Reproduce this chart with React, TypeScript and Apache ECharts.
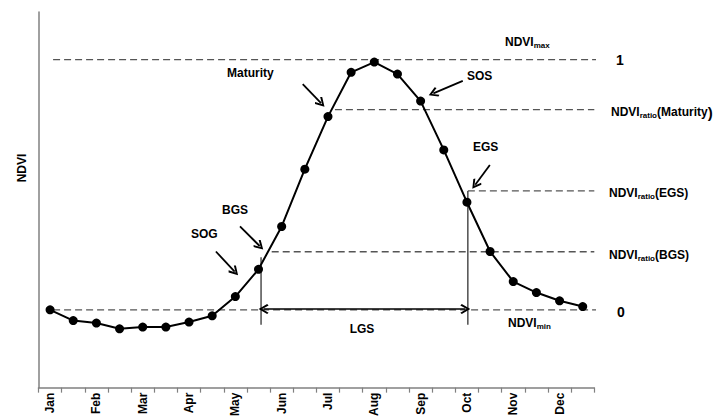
import React, { useEffect, useRef } from "react";
import * as echarts from "echarts";

// ---- data ----
const MONTHS = ["Jan", "Feb", "Mar", "Apr", "May", "Jun", "Jul", "Aug", "Sep", "Oct", "Nov", "Dec"];
// half-month NDVI samples (24 points), position i+0.5 on the x scale
const NDVI = [0.0, -0.043, -0.053, -0.076, -0.069, -0.069, -0.049, -0.024, 0.053, 0.162, 0.333, 0.562,
  0.772, 0.949, 0.99, 0.942, 0.834, 0.639, 0.43, 0.233, 0.113, 0.069, 0.036, 0.013];
const NDVI_MAX = 1;
const NDVI_MIN = 0;
const LEVEL_MATURITY = 0.8;
const LEVEL_EGS = 0.475;
const LEVEL_BGS = 0.232;
const X_BGS = 9.61;
const X_EGS = 18.54;
const X_RIGHT = 24.11;
const TICK_VALUES = Array.from({ length: 25 }, (_, i) => i);
const LABEL_VALUES = MONTHS.map((_, i) => i * 2 + 0.5);

// annotation arrows [x1, y1, x2, y2] in data units
const ARROWS = [
  [11.41, 0.902, 12.2, 0.826], // Maturity
  [18.32, 0.915, 17.05, 0.865], // SOS
  [19.49, 0.579, 18.86, 0.5], // EGS
  [8.7, 0.333, 9.55, 0.255], // BGS
  [7.66, 0.233, 8.47, 0.153], // SOG
];
const LGS_ARROW = [9.72, 0.003, 18.43, 0.003];

const CHEVRON = "path://M5,0 L10,8 L8.6,9.4 L5,3.4 L1.4,9.4 L0,8 Z";
const FONT = '"Liberation Sans", Arial, Helvetica, sans-serif';

function dashed(x0: number, x1: number, y: number) {
  return {
    type: "line",
    data: [[x0, y], [x1, y]],
    symbol: "none",
    clip: false,
    silent: true,
    lineStyle: { color: "#555", width: 1.3, type: [7, 4] },
    z: 2,
  };
}
function vline(x: number, y0: number, y1: number, color: string, width: number) {
  return {
    type: "line",
    data: [[x, y0], [x, y1]],
    symbol: "none",
    clip: false,
    silent: true,
    lineStyle: { color, width },
    z: 2,
  };
}

function txt(text: string, x: number, y: number, size = 12, align = "left", rotation = 0) {
  return {
    type: "text",
    x,
    y,
    rotation,
    style: {
      text,
      fill: "#000",
      font: `bold ${size}px ${FONT}`,
      align,
      textAlign: align,
      verticalAlign: "middle",
      textVerticalAlign: "middle",
    },
  };
}
function subTxt(main: string, sub: string, tail: string, x: number, y: number, close = "") {
  return {
    type: "text",
    x,
    y,
    style: {
      text: `{a|${main}}{b|${sub}}{a|${tail}}` + (close ? `{c|${close}}` : ""),
      align: "left",
      textAlign: "left",
      verticalAlign: "middle",
      textVerticalAlign: "middle",
      rich: {
        a: { fontSize: 12, fontWeight: "bold", fontFamily: FONT, fill: "#000", color: "#000", lineHeight: 15 },
        b: { fontSize: 8, fontWeight: "bold", fontFamily: FONT, fill: "#000", color: "#000", lineHeight: 9, verticalAlign: "bottom" },
        c: { fontSize: 15, fontWeight: "bold", fontFamily: FONT, fill: "#000", color: "#000", lineHeight: 15 },
      },
    },
  };
}

export default function App() {
  const ref = useRef<HTMLDivElement>(null);
  useEffect(() => {
    if (!ref.current) return;
    const chart = echarts.init(ref.current, null, { renderer: "svg" });
    const option: any = {
      animation: false,
      backgroundColor: "#fff",
      grid: { left: 38.5, right: 122.7, top: 12, bottom: 31, containLabel: false },
      xAxis: {
        type: "value",
        min: 0,
        max: 24,
        axisLine: { show: true, onZero: false, lineStyle: { color: "#808080", width: 1.5 } },
        axisTick: { show: true, length: 5, customValues: TICK_VALUES, lineStyle: { color: "#808080", width: 1.2 } },
        axisLabel: {
          show: true,
          customValues: LABEL_VALUES,
          rotate: 90,
          margin: 5,
          color: "#000",
          fontWeight: "bold",
          fontSize: 12,
          fontFamily: FONT,
          formatter: (v: number) => MONTHS[Math.round((v - 0.5) / 2)] ?? "",
        },
        splitLine: { show: false },
      },
      yAxis: {
        type: "value",
        min: -0.311,
        max: 1.19,
        axisLine: { show: true, onZero: false, lineStyle: { color: "#808080", width: 1.5 } },
        axisTick: { show: false },
        axisLabel: { show: false },
        splitLine: { show: false },
      },
      series: [
        dashed(0.63, 24.45, NDVI_MAX),
        dashed(12.8, 24.0, LEVEL_MATURITY),
        dashed(X_EGS, 24.0, LEVEL_EGS),
        dashed(10.07, 24.0, LEVEL_BGS),
        dashed(0.63, 24.45, NDVI_MIN),
        vline(X_BGS, 0.21, -0.06, "#333", 1.3),
        vline(X_EGS, LEVEL_EGS, -0.06, "#333", 1.3),
        vline(X_RIGHT, NDVI_MIN, NDVI_MAX, "#888", 1.3),
        {
          type: "lines",
          coordinateSystem: "cartesian2d",
          symbol: ["none", CHEVRON],
          symbolSize: 10,
          silent: true,
          lineStyle: { color: "#000", width: 1.8, opacity: 1 },
          data: ARROWS.map((a) => ({ coords: [[a[0], a[1]], [a[2], a[3]]] })),
          z: 5,
        },
        {
          type: "lines",
          coordinateSystem: "cartesian2d",
          symbol: [CHEVRON, CHEVRON],
          symbolSize: 10,
          silent: true,
          lineStyle: { color: "#000", width: 1.6, opacity: 1 },
          data: [{ coords: [[LGS_ARROW[0], LGS_ARROW[1]], [LGS_ARROW[2], LGS_ARROW[3]]] }],
          z: 5,
        },
        {
          type: "line",
          data: NDVI.map((v, i) => [i + 0.5, v]),
          symbol: "circle",
          symbolSize: 9,
          showSymbol: true,
          itemStyle: { color: "#000" },
          lineStyle: { color: "#000", width: 2 },
          z: 10,
        },
      ],
      graphic: [
        txt("NDVI", 22, 168, 12, "center", Math.PI / 2),
        subTxt("NDVI", "max", "", 505, 42),
        txt("Maturity", 227, 73),
        txt("SOS", 467, 76),
        txt("EGS", 473, 147),
        txt("BGS", 222, 210),
        txt("SOG", 191, 234),
        txt("LGS", 362, 329, 12, "center"),
        subTxt("NDVI", "min", "", 508, 323),
        txt("1", 616, 60, 14),
        txt("0", 617, 312, 14),
        subTxt("NDVI", "ratio", "(Maturity", 611, 112, ")"),
        subTxt("NDVI", "ratio", "(EGS)", 609, 193),
        subTxt("NDVI", "ratio", "(BGS)", 609, 255),
      ],
    };
    chart.setOption(option);
    return () => chart.dispose();
  }, []);
  return <div ref={ref} style={{ position: "fixed", left: 0, top: 0, width: 717, height: 419 }} />;
}
